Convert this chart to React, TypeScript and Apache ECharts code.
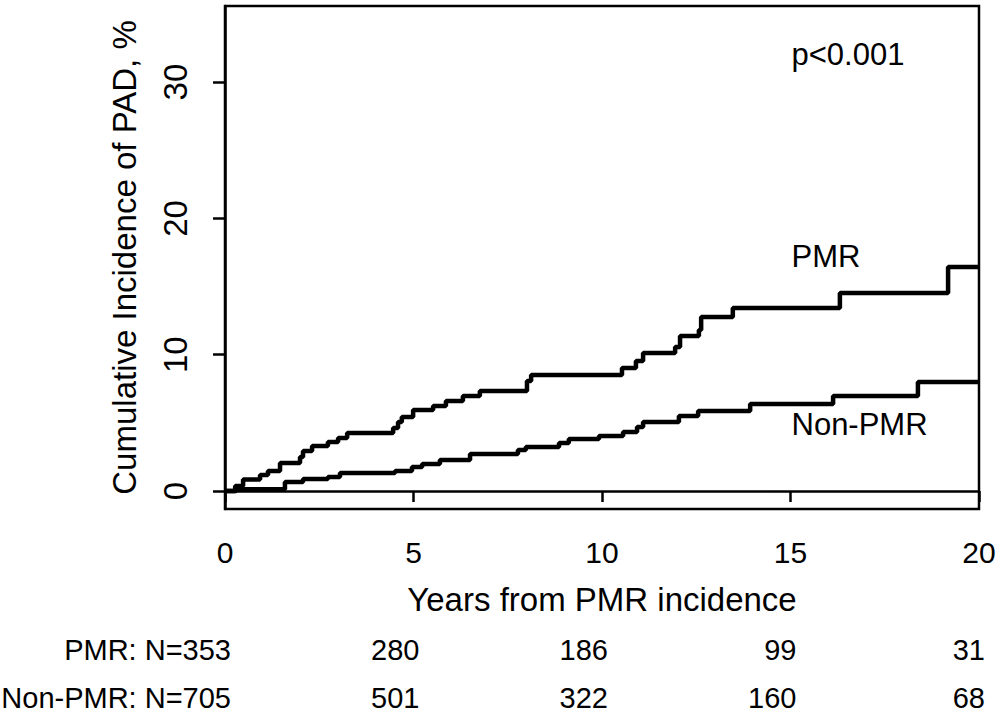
import React, { useEffect, useRef } from 'react';
import * as echarts from 'echarts';

const FONT = '"Liberation Sans", Arial, Helvetica, sans-serif';

const xTicks = [0, 5, 10, 15, 20];
const yTicks = [0, 10, 20, 30];

// PMR cumulative incidence step points (years, %)
const pmrTimes = [0, 0.27, 0.48, 0.93, 1.14, 1.46, 1.99, 2.07, 2.31, 2.73, 3.0, 3.24, 4.46, 4.59, 4.69, 4.99, 5.52, 5.86, 6.31, 6.76, 8.01, 8.12, 10.53, 10.9, 11.09, 11.94, 12.07, 12.57, 12.63, 13.47, 16.31, 19.18, 20];
const pmrValues = [0, 0.37, 0.84, 1.17, 1.47, 2.05, 2.49, 2.93, 3.3, 3.59, 3.89, 4.26, 4.62, 5.06, 5.43, 5.94, 6.24, 6.6, 6.97, 7.34, 8.07, 8.51, 9.02, 9.54, 10.12, 10.56, 11.37, 11.81, 12.77, 13.43, 14.53, 16.43, 16.43];

// Non-PMR cumulative incidence step points (years, %)
const nonPmrTimes = [0, 0.3, 1.59, 2.07, 2.73, 3.05, 4.51, 4.96, 5.23, 5.7, 6.5, 7.77, 7.98, 8.86, 9.12, 9.92, 10.56, 10.93, 11.09, 12.04, 12.55, 13.93, 16.13, 18.38, 20];
const nonPmrValues = [0, 0.12, 0.66, 0.88, 1.03, 1.32, 1.47, 1.76, 1.98, 2.27, 2.71, 3.01, 3.23, 3.52, 3.81, 4.04, 4.33, 4.7, 5.06, 5.5, 5.87, 6.38, 6.97, 8.0, 8.0];

// Numbers at risk
const atRiskTimes = [0, 5, 10, 15, 20];
const pmrAtRisk = [353, 280, 186, 99, 31];
const nonPmrAtRisk = [705, 501, 322, 160, 68];

const annotations = [
  { text: 'p<0.001', t: 15, v: 32.0 },
  { text: 'PMR', t: 15, v: 17.2 },
  { text: 'Non-PMR', t: 15, v: 4.9 },
];

export default function App() {
  const ref = useRef<HTMLDivElement>(null);
  useEffect(() => {
    document.body.style.margin = '0';
    const chart = echarts.init(ref.current!, null, { renderer: 'svg' });
    const lineStyle = { color: '#000', width: 2.5 };
    chart.setOption({
      animation: false,
      backgroundColor: '#fff',
      textStyle: { fontFamily: FONT, color: '#000' },
      grid: {
        left: 225, right: 25, top: 6, bottom: 212,
        show: true, borderColor: '#000', borderWidth: 2.5, containLabel: false,
      },
      xAxis: {
        type: 'value', min: 0, max: 20, interval: 5,
        name: 'Years from PMR incidence', nameLocation: 'middle', nameGap: 74,
        nameTextStyle: { fontFamily: FONT, fontSize: 33, color: '#000' },
        axisLine: { show: true, lineStyle },
        axisTick: { show: true, inside: false, length: 11, lineStyle },
        axisLabel: {
          show: true, margin: 28, fontFamily: FONT, fontSize: 30, color: '#000',
          customValues: xTicks,
        },
        splitLine: { show: false },
      },
      yAxis: {
        type: 'value', min: -1.32, max: 35.58,
        name: 'Cumulative Incidence of PAD, %', nameLocation: 'middle', nameGap: 84, nameRotate: 90,
        nameTextStyle: { fontFamily: FONT, fontSize: 33, color: '#000' },
        axisLine: { show: true, lineStyle },
        axisTick: { show: true, inside: false, length: 12, lineStyle, customValues: yTicks },
        axisLabel: {
          show: true, rotate: 90, margin: 33, fontFamily: FONT, fontSize: 33, color: '#000',
          customValues: yTicks,
        },
        splitLine: { show: false },
      },
      series: [
        {
          name: 'PMR', type: 'line', step: 'end', showSymbol: false, symbol: 'none',
          lineStyle: { color: '#000', width: 4.5 },
          data: pmrTimes.map((t, i) => [t, pmrValues[i]]),
        },
        {
          name: 'Non-PMR', type: 'line', step: 'end', showSymbol: false, symbol: 'none',
          lineStyle: { color: '#000', width: 4.5 },
          data: nonPmrTimes.map((t, i) => [t, nonPmrValues[i]]),
        },
      ],
    });

    const toPx = (t: number, v: number) => chart.convertToPixel({ xAxisIndex: 0, yAxisIndex: 0 }, [t, v]) as number[];
    const graphics: any[] = [];
    annotations.forEach((a) => {
      const p = toPx(a.t, a.v);
      graphics.push({
        type: 'text', x: p[0] + 1, y: p[1],
        style: { text: a.text, font: `31px ${FONT}`, fill: '#000', textAlign: 'left', textVerticalAlign: 'middle' },
      });
    });
    const rows = [
      { label: 'PMR: N=', values: pmrAtRisk, y: 650 },
      { label: 'Non-PMR: N=', values: nonPmrAtRisk, y: 698 },
    ];
    rows.forEach((r) => {
      atRiskTimes.forEach((t, i) => {
        const p = toPx(t, 0);
        const txt = i === 0 ? `${r.label}${r.values[i]}` : `${r.values[i]}`;
        graphics.push({
          type: 'text', x: p[0] + 6, y: r.y,
          style: { text: txt, font: `29px ${FONT}`, fill: '#000', textAlign: 'right', textVerticalAlign: 'middle' },
        });
      });
    });
    chart.setOption({ graphic: graphics });

    return () => chart.dispose();
  }, []);
  return <div ref={ref} style={{ width: 1004, height: 721 }} />;
}
